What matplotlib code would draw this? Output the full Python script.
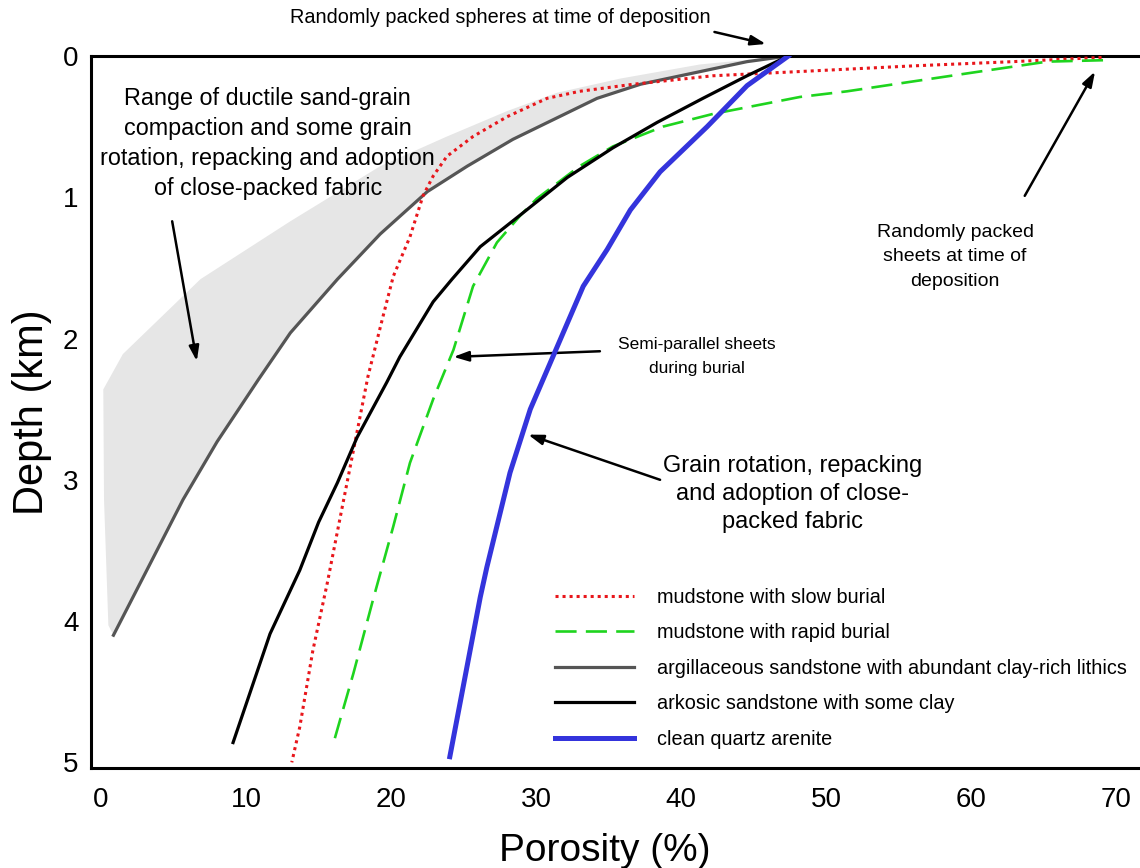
import matplotlib
matplotlib.use("Agg")
import matplotlib.pyplot as plt

plt.rcParams['font.family'] = ['Liberation Sans', 'DejaVu Sans']

# porosity (%) vs depth (km)
quartz_por = [47.4, 44.55, 41.8, 38.55, 36.5, 34.9, 33.25, 29.6, 28.2, 26.6, 26.15, 24.05]
quartz_dep = [0.0, 0.21, 0.50, 0.82, 1.09, 1.37, 1.63, 2.50, 2.95, 3.62, 3.83, 4.96]

arkose_por = [47.4, 44.55, 41.5, 38.35, 35.3, 32.15, 29.1, 26.15, 24.2, 22.9, 20.6, 19.7,
              17.65, 16.3, 15.0, 13.7, 11.65, 9.1]
arkose_dep = [0.0, 0.14, 0.30, 0.47, 0.65, 0.86, 1.11, 1.35, 1.58, 1.74, 2.13, 2.31,
              2.70, 3.02, 3.30, 3.64, 4.09, 4.86]

argil_por = [47.4, 44.55, 37.2, 34.2, 31.2, 28.4, 25.25, 22.5, 19.25, 16.3, 13.05, 10.85,
             8.0, 5.65, 2.9, 0.85]
argil_dep = [0.0, 0.04, 0.20, 0.30, 0.45, 0.59, 0.78, 0.96, 1.26, 1.58, 1.96, 2.29,
             2.73, 3.14, 3.69, 4.10]

# upper (low-compaction) edge of the ductile range
range_por = [47.4, 41.3, 35.8, 31.45, 28.0, 23.85, 19.25, 13.05, 6.85, 1.5, 0.15, 0.2, 0.5]
range_dep = [0.0, 0.06, 0.16, 0.26, 0.39, 0.57, 0.78, 1.17, 1.58, 2.11, 2.36, 3.14, 4.03]

slow_por = [69.0, 62.9, 56.0, 48.2, 42.2, 36.7, 33.0, 30.75, 28.0, 25.65, 23.85, 22.9,
            22.2, 21.3, 20.15, 19.45, 18.4, 17.5, 16.5, 15.6, 14.6, 13.7, 13.15]
slow_dep = [0.01, 0.04, 0.07, 0.11, 0.14, 0.20, 0.25, 0.30, 0.43, 0.57, 0.71, 0.85,
            0.99, 1.28, 1.56, 1.84, 2.27, 2.74, 3.26, 3.73, 4.21, 4.75, 5.0]

rapid_por = [69.1, 65.25, 60.6, 56.0, 51.45, 48.2, 42.2, 38.75, 35.3, 33.0, 30.05, 28.9,
             27.3, 25.65, 24.3, 22.9, 21.3, 20.15, 18.75, 17.4, 15.95]
rapid_dep = [0.03, 0.04, 0.11, 0.18, 0.25, 0.29, 0.41, 0.50, 0.64, 0.78, 1.01, 1.13,
             1.32, 1.63, 2.08, 2.43, 2.88, 3.33, 3.85, 4.37, 4.89]

fig = plt.figure(figsize=(11.4, 8.68), dpi=100)
ax = fig.add_axes([0.0798, 0.1152, 0.9202, 0.8203])

ax.fill(range_por + argil_por[::-1], range_dep + argil_dep[::-1],
        color='#e6e6e6', lw=0, zorder=1)

ax.plot(slow_por, slow_dep, color='#e8161b', lw=2.2, ls=(0, (1, 1.3)),
        label='mudstone with slow burial', zorder=3)
ax.plot(rapid_por, rapid_dep, color='#1ed41e', lw=1.9, ls=(0, (8, 3.5)),
        label='mudstone with rapid burial', zorder=3)
ax.plot(argil_por, argil_dep, color='#555555', lw=2.3,
        label='argillaceous sandstone with abundant clay-rich lithics', zorder=2)
ax.plot(arkose_por, arkose_dep, color='black', lw=2.3,
        label='arkosic sandstone with some clay', zorder=4)
ax.plot(quartz_por, quartz_dep, color='#3434dc', lw=3.6,
        label='clean quartz arenite', zorder=5)

ax.set_xlim(-0.7, 71.65)
ax.set_ylim(5.04, 0)
ax.set_xticks([0, 10, 20, 30, 40, 50, 60, 70])
ax.set_yticks([0, 1, 2, 3, 4, 5])
ax.tick_params(length=0, labelsize=20)
ax.tick_params(axis='x', pad=14)
ax.tick_params(axis='y', pad=9)
for s in ['left', 'top', 'bottom']:
    ax.spines[s].set_linewidth(2.2)
ax.spines['right'].set_visible(False)
ax.set_xlabel('Porosity (%)', fontsize=28)
ax.xaxis.set_label_coords(0.49, -0.117, transform=ax.transAxes)
ax.xaxis.label.set_va('center')
ax.set_ylabel('Depth (km)', fontsize=30, labelpad=8)

arrow = dict(arrowstyle='-|>,head_length=0.9,head_width=0.3', lw=1.8, color='black',
             shrinkA=0, shrinkB=0)

ax.text(27.5, -0.27, 'Randomly packed spheres at time of deposition', fontsize=14.3,
        ha='center', va='center')
ax.annotate('', xy=(45.85, -0.085), xytext=(42.3, -0.17), arrowprops=arrow,
            annotation_clip=False)

ax.text(11.5, 0.62, 'Range of ductile sand-grain\ncompaction and some grain\n'
        'rotation, repacking and adoption\nof close-packed fabric',
        fontsize=16.8, ha='center', va='center', linespacing=1.38)
ax.annotate('', xy=(6.6, 2.16), xytext=(4.9, 1.17), arrowprops=arrow)

ax.text(58.9, 1.42, 'Randomly packed\nsheets at time of\ndeposition', fontsize=14,
        ha='center', va='center', linespacing=1.58)
ax.annotate('', xy=(68.55, 0.11), xytext=(63.7, 0.99), arrowprops=arrow)

ax.text(41.1, 2.13, 'Semi-parallel sheets\nduring burial', fontsize=12.5,
        ha='center', va='center', linespacing=1.75)
ax.annotate('', xy=(24.3, 2.13), xytext=(34.4, 2.09), arrowprops=arrow)

ax.text(47.7, 3.10, 'Grain rotation, repacking\nand adoption of close-\npacked fabric',
        fontsize=17, ha='center', va='center', linespacing=1.37)
ax.annotate('', xy=(29.45, 2.68), xytext=(38.55, 3.0), arrowprops=arrow)

ax.legend(loc='upper left', bbox_to_anchor=(0.442, 0.253), frameon=False, fontsize=14.3,
          handlelength=4.0, handletextpad=1.15, labelspacing=0.83, borderpad=0,
          borderaxespad=0)

fig.savefig('out.png', dpi=100)
